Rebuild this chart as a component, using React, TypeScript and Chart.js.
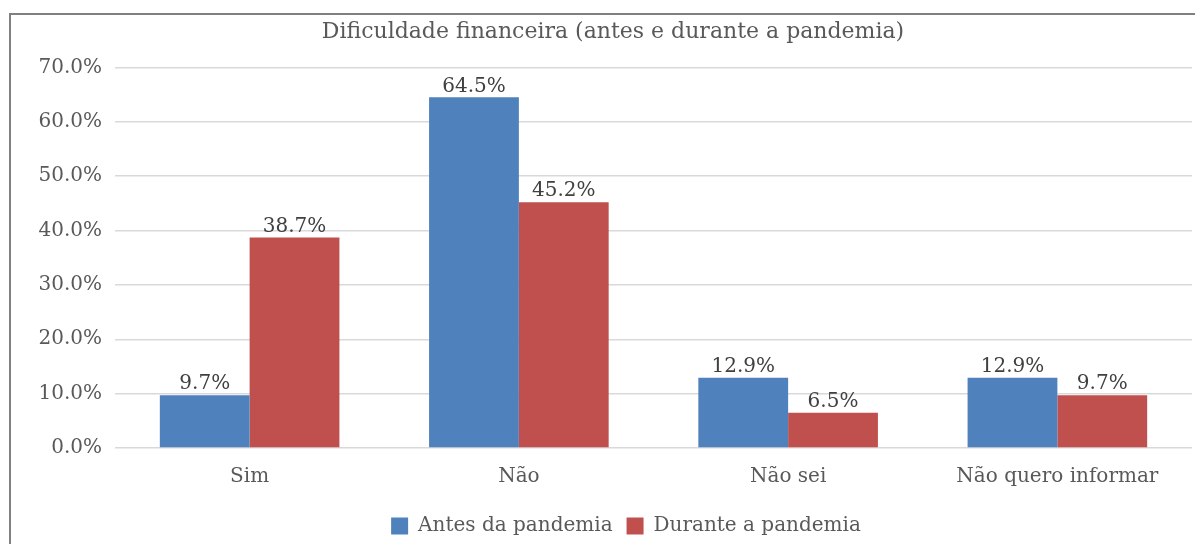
import React, { useEffect, useRef } from "react";
import { Chart, registerables } from "chart.js";

Chart.register(...registerables);

const categories = ["Sim", "Não", "Não sei", "Não quero informar"];
const antes = [9.7, 64.5, 12.9, 12.9];
const durante = [38.7, 45.2, 6.5, 9.7];
const seriesNames = ["Antes da pandemia", "Durante a pandemia"];
const title = "Dificuldade financeira (antes e durante a pandemia)";

const FONT = "'DejaVu Serif', serif";
const TEXT = "#595959";

const dataLabels = {
  id: "dataLabels",
  afterDatasetsDraw(chart: any) {
    const ctx = chart.ctx;
    ctx.save();
    ctx.font = `20px ${FONT}`;
    ctx.fillStyle = "#404040";
    ctx.textAlign = "center";
    ctx.textBaseline = "bottom";
    chart.data.datasets.forEach((ds: any, i: number) => {
      const meta = chart.getDatasetMeta(i);
      meta.data.forEach((bar: any, j: number) => {
        ctx.fillText(ds.data[j].toFixed(1) + "%", bar.x, bar.y - 1);
      });
    });
    ctx.restore();
  },
};

const shiftBoxes = {
  id: "shiftBoxes",
  afterLayout(chart: any) {
    if (chart.legend) { chart.legend.left += 30; chart.legend.right += 30; }
    if (chart.titleBlock) { chart.titleBlock.left += 17; chart.titleBlock.right += 17; }
  },
};

export default function App() {
  const ref = useRef<HTMLCanvasElement>(null);
  useEffect(() => {
    const chart = new Chart(ref.current!, {
      type: "bar",
      data: {
        labels: categories,
        datasets: [
          { label: seriesNames[0], data: antes, backgroundColor: "#4f81bd", borderWidth: 0, categoryPercentage: 0.667, barPercentage: 1 } as any,
          { label: seriesNames[1], data: durante, backgroundColor: "#c0504d", borderWidth: 0, categoryPercentage: 0.667, barPercentage: 1 } as any,
        ],
      },
      options: {
        responsive: false,
        animation: false,
        devicePixelRatio: 1,
        layout: { padding: { left: 0, right: 11, top: 19, bottom: 6 } },
        plugins: {
          title: {
            display: true,
            text: title,
            color: TEXT,
            font: { family: FONT, size: 22, weight: "normal" },
            padding: { top: 0, bottom: 22 },
          },
          legend: {
            position: "bottom",
            labels: {
              color: TEXT,
              font: { family: FONT, size: 20 },
              boxWidth: 17,
              boxHeight: 17,
              padding: 14,
            },
          },
          tooltip: { enabled: false },
        },
        scales: {
          x: {
            grid: { display: false, drawTicks: false },
            border: { display: false },
            ticks: { color: TEXT, font: { family: FONT, size: 20 }, padding: 17 },
            afterFit: (s: any) => { s.height = 54; },
          },
          y: {
            min: 0,
            max: 70,
            ticks: {
              stepSize: 10,
              color: TEXT,
              font: { family: FONT, size: 20 },
              padding: 13,
              callback: (v: any) => Number(v).toFixed(1) + "%",
            },
            grid: { color: "#d9d9d9", drawTicks: false, lineWidth: 1.5 },
            border: { display: false },
            afterFit: (s: any) => { s.width = 115; },
          },
        },
      },
      plugins: [dataLabels, shiftBoxes],
    });
    return () => chart.destroy();
  }, []);
  return (
    <div style={{ position: "relative", margin: -8, width: 1203, height: 552, overflow: "hidden", background: "#fff" }}>
      <div style={{ position: "absolute", left: 9, top: 13, width: 1300, height: 700, border: "2px solid #808080", boxSizing: "border-box" }} />
      <canvas ref={ref} width={1203} height={552} style={{ position: "absolute", left: 0, top: 0 }} />
    </div>
  );
}
